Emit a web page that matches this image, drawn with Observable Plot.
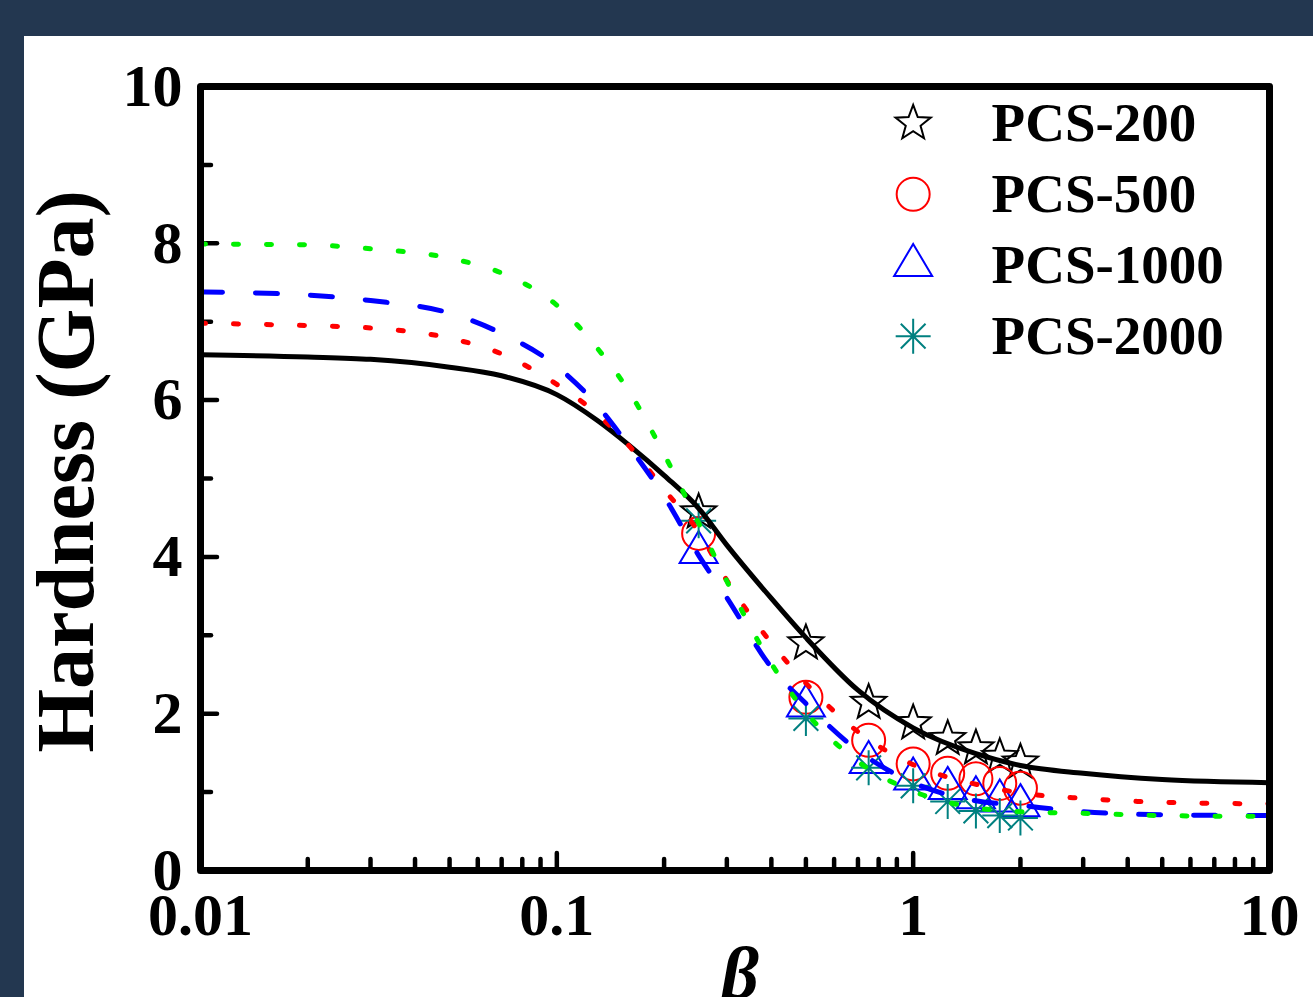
<!DOCTYPE html>
<html><head><meta charset="utf-8">
<script src="https://cdn.jsdelivr.net/npm/d3@7"></script>
<script src="https://cdn.jsdelivr.net/npm/@observablehq/plot@0.6"></script>
<style>
html,body{margin:0;padding:0;background:#233750;width:1313px;height:997px;overflow:hidden;}
#panel{position:absolute;left:24px;top:36px;width:1289px;height:961px;background:#fff;overflow:hidden;}
</style></head><body><div id="panel"></div>
<script>
// ---- data ----
const seriesNames = ["PCS-200", "PCS-500", "PCS-1000", "PCS-2000"];
const betaPoints = [0.25, 0.5, 0.75, 1, 1.25, 1.5, 1.75, 2];
const pcs200 = [4.57, 2.90, 2.14, 1.88, 1.68, 1.56, 1.45, 1.38];
const pcs500 = [4.30, 2.21, 1.66, 1.36, 1.24, 1.17, 1.11, 1.05];
const pcs1000 = [4.06, 2.10, 1.38, 1.17, 1.05, 0.93, 0.89, 0.83];
const pcs2000 = [4.46, 1.94, 1.31, 1.08, 0.88, 0.76, 0.70, 0.67];

const fitBeta = [0.01, 0.02, 0.03, 0.05, 0.07, 0.1, 0.13, 0.16, 0.2, 0.25, 0.3, 0.4, 0.5, 0.7, 1, 1.5, 2, 3, 5, 10];
const fit200  = [6.58, 6.55, 6.52, 6.42, 6.31, 6.07, 5.74, 5.42, 5.04, 4.62, 4.15, 3.47, 2.97, 2.30, 1.82, 1.49, 1.34, 1.24, 1.16, 1.12];
const fit500  = [6.98, 6.95, 6.92, 6.79, 6.59, 6.20, 5.82, 5.41, 4.86, 4.32, 3.70, 2.90, 2.39, 1.77, 1.35, 1.10, 0.99, 0.92, 0.87, 0.85];
const fit1000 = [7.38, 7.34, 7.27, 7.11, 6.85, 6.43, 5.93, 5.40, 4.77, 4.02, 3.48, 2.59, 2.13, 1.53, 1.12, 0.89, 0.83, 0.75, 0.71, 0.70];
const fit2000 = [7.99, 7.98, 7.93, 7.81, 7.62, 7.21, 6.66, 6.10, 5.31, 4.43, 3.69, 2.64, 2.02, 1.39, 1.01, 0.80, 0.75, 0.73, 0.70, 0.69];

const xTicks = [0.01, 0.1, 1, 10];
const xTickLabels = ["0.01", "0.1", "1", "10"];
const xMinorTicks = [0.02,0.03,0.04,0.05,0.06,0.07,0.08,0.09,0.2,0.3,0.4,0.5,0.6,0.7,0.8,0.9,2,3,4,5,6,7,8,9];
const xMajorInner = [0.1, 1];
const yTicks = [0, 2, 4, 6, 8, 10];
const yMinorTicks = [1, 3, 5, 7, 9];

// ---- styling ----
const colors = ["#000000", "#ff0000", "#0000ff", "#008080"];
const lineColors = ["#000000", "#ff0000", "#0000ff", "#00f000"];
const dashes = [null, "5 28", "22 33", "5 28"];

const W = 1289, H = 961, mL = 176, mR = 44, mT = 50, mB = 127;
const pxPerY = (H - mT - mB) / 10;
const pxPerDecade = (W - mL - mR) / 3;
const minorLen = 11, majorLen = 17;

const starSym = {draw(ctx){ const R = 18.5, r = R*0.42;
  for (let k = 0; k < 10; k++){ const a = -Math.PI/2 + k*Math.PI/5; const rr = k % 2 ? r : R;
    const x = rr*Math.cos(a), y = rr*Math.sin(a); k ? ctx.lineTo(x,y) : ctx.moveTo(x,y); }
  ctx.closePath(); }};
const circleSym = {draw(ctx){ ctx.moveTo(16.5,0); ctx.arc(0,0,16.5,0,2*Math.PI); ctx.closePath(); }};
const triSym = {draw(ctx){ ctx.moveTo(0,-21.3); ctx.lineTo(19,10.7); ctx.lineTo(-19,10.7); ctx.closePath(); }};
const astSym = {draw(ctx){ const L = 17.5;
  for (let k = 0; k < 4; k++){ const a = k*Math.PI/4; const x = L*Math.cos(a), y = L*Math.sin(a);
    ctx.moveTo(-x,-y); ctx.lineTo(x,y); } }};
const symbols = [starSym, circleSym, triSym, astSym];

const pointSets = [pcs200, pcs500, pcs1000, pcs2000];
const fitSets = [fit200, fit500, fit1000, fit2000];

const marks = [];
// inward ticks
const tickStyle = {stroke: "black", strokeWidth: 4.5, strokeLinecap: "round"};
marks.push(Plot.ruleX(xMinorTicks, {x: d => d, y1: 0, y2: minorLen/pxPerY, ...tickStyle}));
marks.push(Plot.ruleX(xMajorInner, {x: d => d, y1: 0, y2: majorLen/pxPerY, ...tickStyle}));
marks.push(Plot.ruleY(yMinorTicks, {y: d => d, x1: 0.01, x2: 0.01*Math.pow(10, minorLen/pxPerDecade), ...tickStyle}));
marks.push(Plot.ruleY(yTicks.slice(1, -1), {y: d => d, x1: 0.01, x2: 0.01*Math.pow(10, majorLen/pxPerDecade), ...tickStyle}));

// scatter
pointSets.forEach((vals, s) => {
  const data = betaPoints.map((b, i) => ({beta: b, h: vals[i]}));
  marks.push(Plot.dot(data, {x: "beta", y: "h", symbol: symbols[s], r: 17, fill: "none", stroke: colors[s], strokeWidth: 2}));
});
// fitted curves
fitSets.forEach((vals, s) => {
  const data = fitBeta.map((b, i) => ({beta: b, h: vals[i]}));
  marks.push(Plot.line(data, {x: "beta", y: "h", curve: "monotone-x", stroke: lineColors[s], strokeWidth: 5,
    strokeDasharray: dashes[s], strokeLinecap: "round"}));
});
// legend
seriesNames.forEach((name, s) => {
  marks.push(Plot.dot([name], {x: () => 1, y: () => 9.53 - s*0.905, symbol: symbols[s], r: 17, fill: "none", stroke: colors[s], strokeWidth: 2}));
  marks.push(Plot.text([name], {x: () => 1.66, y: () => 9.53 - s*0.905, text: d => d, textAnchor: "start", lineAnchor: "middle",
    fontSize: 55, fontWeight: "bold", fill: "black"}));
});
// axes
marks.push(Plot.axisX(xTicks, {tickSize: 0, tickPadding: 22, tickFormat: d => xTickLabels[xTicks.indexOf(d)], fontSize: 60, fontWeight: "bold", label: null}));
marks.push(Plot.axisY(yTicks, {tickSize: 0, tickPadding: 18, tickFormat: d => String(d), fontSize: 60, fontWeight: "bold", label: null}));
// titles
marks.push(Plot.text(["Hardness (GPa)"], {frameAnchor: "left", text: d => d, rotate: -90, dx: -134, dy: -7, fontSize: 82, fontWeight: "bold", textAnchor: "middle", lineAnchor: "middle"}));
marks.push(Plot.text(["β"], {frameAnchor: "bottom", text: d => d, dx: 5, dy: 75, lineAnchor: "top", fontSize: 74, fontStyle: "italic", fontWeight: "bold"}));
// frame
marks.push(Plot.frame({stroke: "black", strokeWidth: 7, strokeLinejoin: "round"}));

const chart = Plot.plot({
  width: W, height: H, marginLeft: mL, marginRight: mR, marginTop: mT, marginBottom: mB,
  x: {type: "log", domain: [0.01, 10], label: null, axis: null},
  y: {domain: [0, 10], label: null, axis: null},
  style: {fontFamily: '"Liberation Serif", "Times New Roman", serif', color: "black", background: "white", overflow: "visible"},
  marks
});
document.getElementById("panel").appendChild(chart);
</script></body></html>
